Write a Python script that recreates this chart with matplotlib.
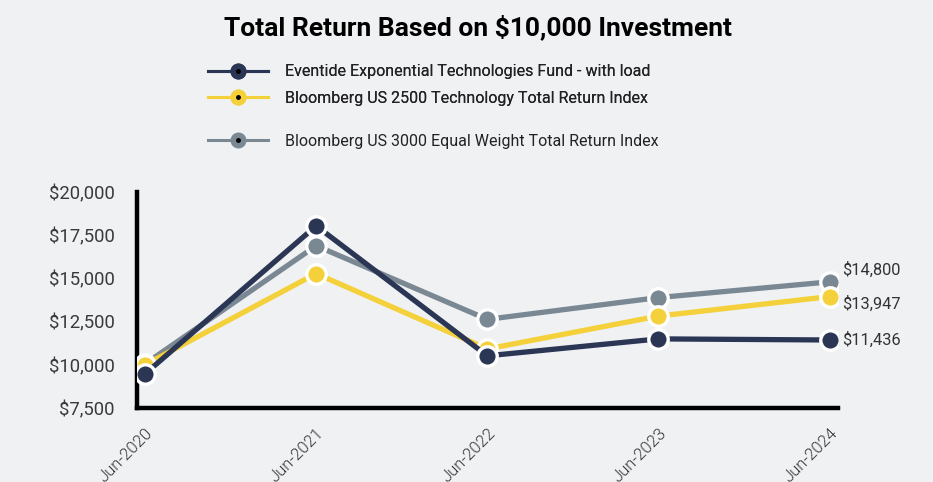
import matplotlib
matplotlib.use("Agg")
import matplotlib.pyplot as plt
from matplotlib.lines import Line2D
from matplotlib.legend_handler import HandlerTuple
from matplotlib.ticker import FuncFormatter

plt.rcParams['font.family'] = ['Roboto', 'DejaVu Sans']

dates = ["Jun-2020", "Jun-2021", "Jun-2022", "Jun-2023", "Jun-2024"]
fund = [9475, 18040, 10520, 11500, 11436]
tech = [10000, 15280, 10920, 12820, 13947]
equal = [10050, 16890, 12630, 13890, 14800]
series_names = ["Eventide Exponential Technologies Fund - with load",
                "Bloomberg US 2500 Technology Total Return Index",
                "Bloomberg US 3000 Equal Weight Total Return Index"]
end_labels = ["$11,436", "$13,947", "$14,800"]
yticks = [7500, 10000, 12500, 15000, 17500, 20000]

c_fund = "#2b3655"
c_tech = "#f4d03a"
c_equal = "#7a8893"
bg = "#f0f1f3"

fig = plt.figure(figsize=(9.33, 4.82), dpi=100, facecolor=bg)
ax = fig.add_axes([0.1468, 0.1535, 0.751, 0.4482], facecolor=bg)

x = list(range(len(dates)))
kw = dict(lw=3.8, marker='o', markersize=14, markeredgecolor='white', markeredgewidth=2.4, solid_joinstyle='miter')
ax.plot(x, equal, color=c_equal, zorder=3, **kw)
ax.plot(x, tech, color=c_tech, zorder=4, **kw)
ax.plot(x, fund, color=c_fund, zorder=5, **kw)

ax.set_xlim(-0.047, 4.047)
ax.set_ylim(7500, 20000)
ax.set_yticks(yticks)
ax.yaxis.set_major_formatter(FuncFormatter(lambda v, p: f"${v:,.0f}"))
ax.set_xticks(x)
ax.set_xticklabels(dates, rotation=45, ha='right', va='top', rotation_mode='anchor', fontweight=300)
ax.tick_params(axis='y', length=0, pad=16, labelsize=13.3, labelcolor='#3a3a3a')
ax.tick_params(axis='x', length=0, pad=13, labelsize=12, labelcolor='#333333')
for s in ['top', 'right']:
    ax.spines[s].set_visible(False)
for s in ['left', 'bottom']:
    ax.spines[s].set_linewidth(3.2)
    ax.spines[s].set_color('black')
ax.spines['left'].set_capstyle('projecting')

# end labels
offsets = {"$11,436": (fund[-1], 0), "$13,947": (tech[-1], -5), "$14,800": (equal[-1], 9)}
for lab in end_labels:
    val, dy = offsets[lab]
    ax.annotate(lab, (x[-1], val), xytext=(9, dy), textcoords='offset points',
                ha='left', va='center', fontsize=11.8, color='#333333')

fig.text(0.512, 0.944, "Total Return Based on $10,000 Investment", ha='center', va='center',
         fontsize=19, fontweight='bold', color='black')

def handle(color):
    line = Line2D([], [], color=color, lw=2.2)
    dot = Line2D([], [], color=color, marker='o', markersize=10.5, markeredgecolor=color, lw=0)
    center = Line2D([], [], color='black', marker='o', markersize=2.5, lw=0)
    return (line, dot, center)

hm = {tuple: HandlerTuple(ndivide=1, pad=0)}
leg1 = fig.legend([handle(c_fund), handle(c_tech)], series_names[:2], handler_map=hm,
                  loc='upper left', bbox_to_anchor=(0.223, 0.867), frameon=False,
                  fontsize=11.5, handlelength=3.75, handletextpad=1.05, labelspacing=0.75,
                  borderaxespad=0, borderpad=0)
leg2 = fig.legend([handle(c_equal)], series_names[2:], handler_map=hm,
                  loc='upper left', bbox_to_anchor=(0.223, 0.722), frameon=False,
                  fontsize=11.5, handlelength=3.75, handletextpad=1.05,
                  borderaxespad=0, borderpad=0)
for leg in (leg1, leg2):
    for t in leg.get_texts():
        t.set_color('#222222')
fig.add_artist(leg1)

fig.savefig("out.png", dpi=100, facecolor=bg)
